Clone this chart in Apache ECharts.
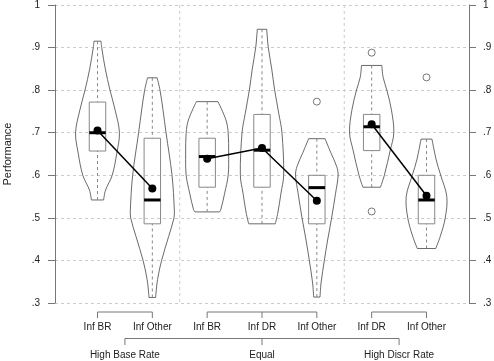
<!DOCTYPE html>
<html><head><meta charset="utf-8">
<script src="https://cdn.jsdelivr.net/npm/echarts@6/dist/echarts.min.js"></script>
<style>html,body{margin:0;padding:0;background:#fff}#c{width:494px;height:361px}</style>
</head><body><div id="c"></div>
<script>
// ---- data ----
const groups = ['High Base Rate', 'Equal', 'High Discr Rate'];
const conditions = ['Inf BR', 'Inf Other', 'Inf BR', 'Inf DR', 'Inf Other', 'Inf DR', 'Inf Other'];
const groupOf = [0, 0, 1, 1, 1, 2, 2];
const yTicks = [0.3, 0.4, 0.5, 0.6, 0.7, 0.8, 0.9, 1];
// [lower whisker, q1, median, q3, upper whisker]
const boxStats = [
  [0.542, 0.657, 0.700, 0.772, 0.915],
  [0.313, 0.486, 0.542, 0.687, 0.829],
  [0.514, 0.572, 0.644, 0.687, 0.773],
  [0.486, 0.572, 0.659, 0.743, 0.943],
  [0.314, 0.486, 0.571, 0.600, 0.686],
  [0.572, 0.658, 0.714, 0.743, 0.858],
  [0.428, 0.486, 0.542, 0.600, 0.685]
];
const means = [0.705, 0.569, 0.639, 0.664, 0.540, 0.720, 0.552];
// [condition index, value]
const outliers = [[4, 0.773], [5, 0.888], [5, 0.515], [6, 0.830]];
// violin density outlines: performance levels and half-widths (x-axis units)
const violinLevels = [
  [0.915, 0.900, 0.850, 0.800, 0.753, 0.700, 0.652, 0.600, 0.565, 0.542],
  [0.829, 0.800, 0.753, 0.700, 0.600, 0.519, 0.500, 0.456, 0.400, 0.355, 0.313],
  [0.773, 0.730, 0.700, 0.650, 0.600, 0.558, 0.520, 0.514],
  [0.943, 0.900, 0.850, 0.800, 0.745, 0.700, 0.600, 0.558, 0.511, 0.486],
  [0.686, 0.652, 0.621, 0.600, 0.558, 0.500, 0.448, 0.400, 0.347, 0.314],
  [0.858, 0.830, 0.800, 0.753, 0.700, 0.660, 0.600, 0.572],
  [0.685, 0.636, 0.600, 0.550, 0.500, 0.456, 0.428]
];
const violinHalfWidths = [
  [0.064, 0.077, 0.142, 0.228, 0.322, 0.400, 0.352, 0.268, 0.146, 0.112],
  [0.087, 0.140, 0.195, 0.250, 0.359, 0.401, 0.395, 0.297, 0.169, 0.095, 0.060],
  [0.197, 0.342, 0.383, 0.392, 0.383, 0.319, 0.250, 0.224],
  [0.086, 0.115, 0.177, 0.231, 0.306, 0.364, 0.395, 0.346, 0.288, 0.242],
  [0.149, 0.259, 0.361, 0.388, 0.342, 0.270, 0.197, 0.137, 0.077, 0.058],
  [0.186, 0.209, 0.277, 0.361, 0.404, 0.341, 0.231, 0.160],
  [0.100, 0.177, 0.259, 0.370, 0.342, 0.250, 0.168]
];

// ---- chart ----
const FONT = 'Liberation Sans, Arial, sans-serif';
const TXT = '#222';
const pos = conditions.map((c, i) => i + 1);
const groupPos = groups.map((g, gi) => pos.filter((p, i) => groupOf[i] === gi));
const separators = [];
for (let i = 1; i < pos.length; i++) if (groupOf[i] !== groupOf[i - 1]) separators.push((pos[i] + pos[i - 1]) / 2);
const yMin = yTicks[0], yMax = yTicks[yTicks.length - 1];
const BOXW = 0.15;

const fmt = v => Math.abs(v - 1) < 1e-9 ? '1' : v.toFixed(1).replace(/^0/, '');
const yAxisBase = {
  type: 'value', min: yMin, max: yMax, interval: 0.1,
  axisLine: {show: true, lineStyle: {color: '#777', width: 1}},
  axisTick: {show: true, length: 7, lineStyle: {color: '#777'}},
  axisLabel: {formatter: fmt, fontSize: 10, color: TXT, fontFamily: FONT, margin: 15},
};

const series = [];
// vertical separators
series.push({
  type: 'custom', z: 1, silent: true,
  data: separators.map(s => [s, yMax]),
  renderItem: (params, api) => {
    const x = api.value(0);
    const a = api.coord([x, yMax]), b = api.coord([x, yMin]);
    return {type: 'line', shape: {x1: a[0], y1: a[1], x2: b[0], y2: b[1]},
      style: {stroke: '#ccc', lineWidth: 1, lineDash: [3, 3]}};
  }
});
// violins
series.push({
  type: 'custom', z: 2, silent: true,
  data: pos.map((p, i) => [p, boxStats[i][2]]),
  renderItem: (params, api) => {
    const i = params.dataIndex, x = pos[i];
    const lv = violinLevels[i], hw = violinHalfWidths[i];
    const L = lv.map((v, k) => api.coord([x - hw[k], v]));
    const R = lv.map((v, k) => api.coord([x + hw[k], v]));
    const n = lv.length - 1;
    const st = {stroke: '#444', lineWidth: 0.8, fill: null};
    return {type: 'group', children: [
      {type: 'polyline', shape: {points: L, smooth: 0.35}, style: st},
      {type: 'polyline', shape: {points: R, smooth: 0.35}, style: st},
      {type: 'line', shape: {x1: L[0][0], y1: L[0][1], x2: R[0][0], y2: R[0][1]}, style: st},
      {type: 'line', shape: {x1: L[n][0], y1: L[n][1], x2: R[n][0], y2: R[n][1]}, style: st}
    ]};
  }
});
// boxes
series.push({
  type: 'custom', z: 3, silent: true,
  data: pos.map((p, i) => [p, boxStats[i][2]]),
  renderItem: (params, api) => {
    const i = params.dataIndex, x = pos[i], s = boxStats[i];
    const lo = api.coord([x, s[0]]), q1 = api.coord([x - BOXW, s[1]]), q3 = api.coord([x + BOXW, s[3]]);
    const hi = api.coord([x, s[4]]);
    const mL = api.coord([x - BOXW, s[2]]), mR = api.coord([x + BOXW, s[2]]);
    const wst = {stroke: '#888', lineWidth: 1, lineDash: [3, 3]};
    return {type: 'group', children: [
      {type: 'line', shape: {x1: lo[0], y1: lo[1], x2: lo[0], y2: q1[1]}, style: wst},
      {type: 'line', shape: {x1: hi[0], y1: hi[1], x2: hi[0], y2: q3[1]}, style: wst},
      {type: 'rect', shape: {x: q1[0], y: q3[1], width: q3[0] - q1[0], height: q1[1] - q3[1]},
        style: {stroke: '#888', lineWidth: 1, fill: 'rgba(255,255,255,0)'}},
      {type: 'line', shape: {x1: mL[0], y1: mL[1], x2: mR[0], y2: mR[1]}, style: {stroke: '#000', lineWidth: 3}}
    ]};
  }
});
// outliers
series.push({
  type: 'scatter', z: 4, silent: true, symbol: 'circle', symbolSize: 7,
  itemStyle: {color: '#fff', borderColor: '#555', borderWidth: 1},
  data: outliers.map(o => [pos[o[0]], o[1]])
});
// means connected within group
groups.forEach((g, gi) => {
  series.push({
    type: 'line', z: 5, silent: true, symbol: 'circle', symbolSize: 8,
    itemStyle: {color: '#000'}, lineStyle: {color: '#000', width: 1.5},
    data: pos.map((p, i) => [p, means[i]]).filter((d, i) => groupOf[i] === gi)
  });
});
// bottom brackets level 1 (conditions)
series.push({
  type: 'custom', z: 6, silent: true,
  data: groups.map((g, gi) => [gi, yMin]),
  renderItem: (params, api) => {
    const gi = params.dataIndex, ps = groupPos[gi];
    const yb = api.coord([0, yMin])[1];
    const st = {stroke: '#777', lineWidth: 1};
    const ch = [];
    const a = api.coord([ps[0], yMin])[0], b = api.coord([ps[ps.length - 1], yMin])[0];
    ch.push({type: 'line', shape: {x1: a, y1: yb + 9, x2: b, y2: yb + 9}, style: st});
    pos.forEach((p, i) => {
      if (groupOf[i] !== gi) return;
      const x = api.coord([p, yMin])[0];
      ch.push({type: 'line', shape: {x1: x, y1: yb + 9, x2: x, y2: yb + 15}, style: st});
      ch.push({type: 'text', style: {text: conditions[i], x: x, y: yb + 24, align: 'center', verticalAlign: 'middle',
        fontSize: 10, fontFamily: FONT, fill: TXT}});
    });
    return {type: 'group', children: ch};
  }
});
// bottom bracket level 2 (groups)
series.push({
  type: 'custom', z: 6, silent: true,
  data: [[0, yMin]],
  renderItem: (params, api) => {
    const yb = api.coord([0, yMin])[1];
    const st = {stroke: '#777', lineWidth: 1};
    const cx = groupPos.map(ps => api.coord([(ps[0] + ps[ps.length - 1]) / 2, yMin])[0]);
    const ch = [{type: 'line', shape: {x1: cx[0], y1: yb + 35.5, x2: cx[cx.length - 1], y2: yb + 35.5}, style: st}];
    cx.forEach((x, gi) => {
      ch.push({type: 'line', shape: {x1: x, y1: yb + 35.5, x2: x, y2: yb + 42}, style: st});
      ch.push({type: 'text', style: {text: groups[gi], x: x, y: yb + 52.5, align: 'center', verticalAlign: 'middle',
        fontSize: 10, fontFamily: FONT, fill: TXT}});
    });
    return {type: 'group', children: ch};
  }
});

const chart = echarts.init(document.getElementById('c'), null, {renderer: 'canvas'});
chart.setOption({
  animation: false,
  backgroundColor: '#fff',
  grid: {left: 55, right: 25, top: 5, bottom: 58, containLabel: false, outerBoundsMode: 'none'},
  xAxis: {type: 'value', min: 0.225, max: 7.775, show: false},
  yAxis: [
    Object.assign({}, yAxisBase, {position: 'left',
      splitLine: {show: true, lineStyle: {color: '#ccc', type: [3, 3], width: 1}},
      name: 'Performance', nameLocation: 'middle', nameGap: 42, nameRotate: 90,
      nameTextStyle: {fontSize: 11, color: TXT, fontFamily: FONT}}),
    Object.assign({}, yAxisBase, {position: 'right', splitLine: {show: false},
      axisLabel: Object.assign({}, yAxisBase.axisLabel, {margin: 14})})
  ],
  series: series
});
</script></body></html>
